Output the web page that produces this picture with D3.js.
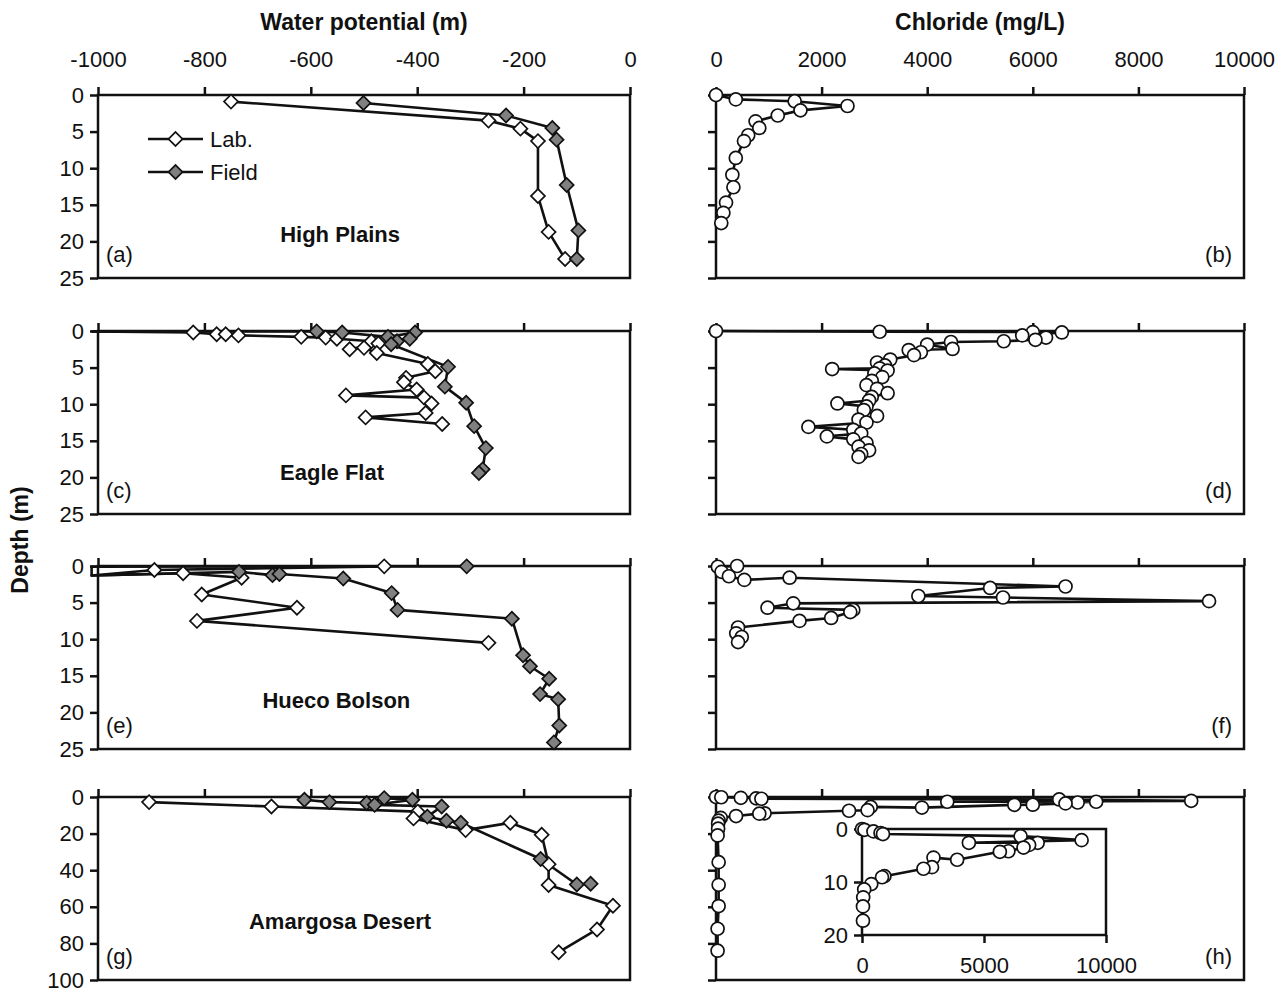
<!DOCTYPE html>
<html>
<head>
<meta charset="utf-8">
<title>Depth profiles</title>
<script src="https://d3js.org/d3.v7.min.js"></script>
<style>
  body { margin: 0; background: #fff; font-family: "Liberation Sans", Arial, sans-serif; }
  .tick text { font-size: 22px; fill: #111; font-family: "Liberation Sans", Arial, sans-serif; }
  .tick line { stroke: #111; stroke-width: 2.5; }
  .frame { fill: none; stroke: #111; stroke-width: 2.5; }
  .series { fill: none; stroke: #111; stroke-width: 2.6; stroke-linejoin: round; }
  .site { font-weight: bold; font-size: 22px; text-anchor: middle; fill: #111; }
  .letter { font-size: 22px; fill: #111; }
  .title { font-weight: bold; font-size: 23px; text-anchor: middle; fill: #111; }
</style>
</head>
<body>
<script>
// ---- data: [value, depth (m)] ----
// (a) High Plains water potential (m)
var hpLab = [[-750,0.9],[-266,3.5],[-206,4.6],[-173,6.3],[-173,13.8],[-153,18.7],[-122,22.4]];
var hpField = [[-501,1.1],[-233,2.8],[-146,4.5],[-138,6.1],[-119,12.3],[-97,18.5],[-100,22.4]];
// (b) High Plains chloride (mg/L)
var hpCl = [[0,0],[375,0.6],[1490,0.85],[2490,1.5],[1600,2.1],[1170,2.8],[750,3.6],[820,4.5],[610,5.5],
            [530,6.3],[375,8.6],[310,10.9],[330,12.6],[190,14.7],[140,16.1],[100,17.5]];

// (c) Eagle Flat
var efLab = [[-1012,0.05],[-821,0.2],[-777,0.45],[-760,0.45],[-736,0.6],[-618,0.8],[-572,0.9],[-551,1.05],
             [-486,1.4],[-473,1.7],[-527,2.5],[-500,2.3],[-476,3.0],[-380,4.5],[-366,5.5],[-421,6.4],
             [-425,7.0],[-401,8.0],[-534,8.8],[-387,9.1],[-373,9.9],[-384,11.2],[-497,11.8],[-353,12.7]];
var efField = [[-1012,0.05],[-589,0.05],[-541,0.2],[-455,0.8],[-404,0.2],[-414,1.05],[-438,1.4],[-449,1.8],
               [-342,4.9],[-348,7.6],[-308,9.8],[-293,13],[-271,16],[-277,18.9],[-284,19.4]];
// (d)
var efCl = [[0,0],[3100,0.1],[6000,0.15],[6550,0.2],[5800,0.6],[6250,0.9],[6050,1.2],[5450,1.4],[4450,1.5],
            [4000,1.85],[4480,2.45],[3650,2.6],[3880,2.9],[3750,3.3],[3300,3.9],[3050,4.3],[3200,4.7],
            [3100,5.1],[2200,5.2],[3250,5.4],[3000,5.8],[3150,6.3],[2950,6.8],[2850,7.4],[3050,7.9],
            [3250,8.5],[2950,9.0],[2900,9.5],[2300,9.9],[2850,10.3],[2800,10.8],[3050,11.6],[2700,12.1],
            [2850,12.5],[1750,13.1],[2600,13.5],[2750,14.0],[2100,14.4],[2600,14.8],[2850,15.3],
            [2700,15.8],[2900,16.3],[2750,16.8],[2700,17.2]];

// (e) Hueco Bolson
var hbLab = [[-462,0.05],[-894,0.55],[-1012,1.3],[-840,1.0],[-730,1.6],[-805,3.9],[-626,5.7],[-814,7.5],[-266,10.5]];
var hbField = [[-307,0.05],[-1012,0.1],[-1012,1.3],[-735,0.8],[-672,1.25],[-659,1.1],[-539,1.7],[-448,3.7],
               [-437,6.0],[-222,7.2],[-201,12.2],[-188,13.7],[-152,15.4],[-169,17.5],[-135,18.2],
               [-133,21.8],[-143,24.1]];
// (f)
var hbCl = [[400,0],[35,0.1],[105,0.8],[244,1.4],[537,1.9],[1394,1.6],[6620,2.8],[5192,3.0],[3833,4.1],
            [5436,4.3],[9338,4.8],[1463,5.1],[976,5.7],[2600,6.0],[2544,6.3],[2181,7.1],[1582,7.5],
            [418,8.4],[383,9.2],[488,9.7],[418,10.4]];

// (g) Amargosa Desert
var adLab = [[-904,2.8],[-674,5.2],[-399,8.0],[-407,11.7],[-309,18.1],[-225,14.1],[-166,20.6],[-153,36.7],
             [-153,48.1],[-32,59.4],[-62,72.4],[-134,84.8]];
var adField = [[-612,1.5],[-565,2.8],[-495,3.3],[-462,0.6],[-409,1.5],[-480,4.3],[-354,5.2],[-381,10.7],
               [-345,13],[-318,14.1],[-168,33.9],[-100,47.8],[-74,47.4]];
// (h) also shown in the inset (0-20 m)
var adCl = [[0,0],[100,0.15],[470,0.45],[760,0.75],[860,0.95],[6500,1.35],[9000,2.1],[4380,2.6],[7200,2.6],
            [6850,3.0],[6620,3.5],[6000,4.2],[5650,4.3],[3900,5.8],[2930,5.4],[2870,7.2],[2520,7.5],
            [920,8.9],[820,9.1],[380,10.4],[90,11.4],[50,12.9],[40,14.6],[40,17.3],[30,21],[50,35.6],
            [50,48],[50,59.6],[30,72],[30,84]];

var wpTicks = [-1000, -800, -600, -400, -200, 0];
var clTicks = [0, 2000, 4000, 6000, 8000, 10000];
var depthTicks = [0, 5, 10, 15, 20, 25];
var deepTicks = [0, 20, 40, 60, 80, 100];
var insetXTicks = [0, 5000, 10000];
var insetYTicks = [0, 10, 20];

var sites = ["High Plains", "Eagle Flat", "Hueco Bolson", "Amargosa Desert"];
var letters = [["(a)","(b)"],["(c)","(d)"],["(e)","(f)"],["(g)","(h)"]];
var labSeries = [hpLab, efLab, hbLab, adLab];
var fieldSeries = [hpField, efField, hbField, adField];
var clSeries = [hpCl, efCl, hbCl, adCl];
var sitePos = [[0.455, 0.76], [0.44, 0.77], [0.448, 0.73], [0.455, 0.68]];

// ---- layout ----
var W = 1282, H = 995;
var rowTop = [95, 331, 566, 797];
var rowH = 183;
var leftX = {x0: 98, x1: 630};
var rightX = {x0: 716, x1: 1244};

var svg = d3.select("body").append("svg").attr("width", W).attr("height", H);

svg.append("text").attr("class", "title").attr("x", 364).attr("y", 30).text("Water potential (m)");
svg.append("text").attr("class", "title").attr("x", 980).attr("y", 30).text("Chloride (mg/L)");
svg.append("text").attr("class", "title")
  .attr("transform", "translate(28," + 540 + ") rotate(-90)").text("Depth (m)");

var diamond = d3.symbol().type(d3.symbolSquare).size(98);
var plainFmt = function(d) { return String(d); };   // hyphen minus, no thousands separator

function drawLine(g, data, x, y) {
  g.append("path").datum(data).attr("class", "series")
    .attr("d", d3.line().x(function(d){ return x(d[0]); }).y(function(d){ return y(d[1]); }));
}
// markers only for points that fall inside the axis range
function inRange(x) {
  var dom = x.domain();
  return function(d) { return d[0] >= dom[0] && d[0] <= dom[1]; };
}
function drawDiamonds(g, data, x, y, fill) {
  g.selectAll(null).data(data.filter(inRange(x))).enter().append("path")
    .attr("d", diamond)
    .attr("transform", function(d){ return "translate(" + x(d[0]) + "," + y(d[1]) + ") rotate(45)"; })
    .attr("fill", fill).attr("stroke", "#111").attr("stroke-width", 1.7);
}
function drawCircles(g, data, x, y) {
  g.selectAll(null).data(data).enter().append("circle")
    .attr("cx", function(d){ return x(d[0]); }).attr("cy", function(d){ return y(d[1]); })
    .attr("r", 6.5).attr("fill", "#fff").attr("stroke", "#111").attr("stroke-width", 1.7);
}
function drawFrame(g, x0, x1, y0, y1) {
  g.append("rect").attr("class", "frame").attr("x", x0).attr("y", y0)
    .attr("width", x1 - x0).attr("height", y1 - y0);
}
function noDomain(s) { s.select(".domain").remove(); }

for (var r = 0; r < 4; r++) {
  var y0 = rowTop[r], y1 = y0 + rowH;
  var dmax = r === 3 ? 100 : 25;
  var yTicks = r === 3 ? deepTicks : depthTicks;
  var y = d3.scaleLinear().domain([0, dmax]).range([y0, y1]);

  // left panel: water potential
  var xL = d3.scaleLinear().domain([-1000, 0]).range([leftX.x0, leftX.x1]);
  var gL = svg.append("g");
  var topAxisL = d3.axisTop(xL).tickValues(wpTicks).tickSize(8).tickPadding(20).tickFormat(plainFmt);
  if (r > 0) topAxisL.tickFormat("");
  gL.append("g").attr("transform", "translate(0," + y0 + ")").call(topAxisL).call(noDomain);
  gL.append("g").attr("transform", "translate(" + leftX.x0 + ",0)")
    .call(d3.axisLeft(y).tickValues(yTicks).tickSize(8).tickPadding(6)).call(noDomain);
  drawFrame(gL, leftX.x0, leftX.x1, y0, y1);

  drawLine(gL, labSeries[r], xL, y);
  drawLine(gL, fieldSeries[r], xL, y);
  drawDiamonds(gL, labSeries[r], xL, y, "#fff");
  drawDiamonds(gL, fieldSeries[r], xL, y, "#808080");

  gL.append("text").attr("class", "site")
    .attr("x", xL(-1000 + 1000 * sitePos[r][0])).attr("y", y0 + rowH * sitePos[r][1] + 8)
    .text(sites[r]);
  gL.append("text").attr("class", "letter").attr("x", leftX.x0 + 8).attr("y", y0 + rowH * 0.87 + 8)
    .text(letters[r][0]);

  // right panel: chloride
  var xR = d3.scaleLinear().domain([0, 10000]).range([rightX.x0, rightX.x1]);
  var gR = svg.append("g");
  var topAxisR = d3.axisTop(xR).tickValues(clTicks).tickSize(8).tickPadding(20).tickFormat(plainFmt);
  if (r > 0) topAxisR.tickFormat("");
  gR.append("g").attr("transform", "translate(0," + y0 + ")").call(topAxisR).call(noDomain);
  gR.append("g").attr("transform", "translate(" + rightX.x0 + ",0)")
    .call(d3.axisLeft(y).tickValues(yTicks).tickSize(8).tickFormat("")).call(noDomain);
  drawFrame(gR, rightX.x0, rightX.x1, y0, y1);

  drawLine(gR, clSeries[r], xR, y);
  drawCircles(gR, clSeries[r], xR, y);

  gR.append("text").attr("class", "letter").attr("text-anchor", "end")
    .attr("x", rightX.x1 - 12).attr("y", y0 + rowH * 0.87 + 8).text(letters[r][1]);

  // legend in (a)
  if (r === 0) {
    var legend = [["Lab.", "#fff", 139], ["Field", "#808080", 172]];
    legend.forEach(function(l) {
      gL.append("line").attr("x1", 148).attr("x2", 203).attr("y1", l[2]).attr("y2", l[2])
        .attr("stroke", "#111").attr("stroke-width", 2.6);
      gL.append("path").attr("d", diamond)
        .attr("transform", "translate(175.5," + l[2] + ") rotate(45)")
        .attr("fill", l[1]).attr("stroke", "#111").attr("stroke-width", 1.7);
      gL.append("text").attr("x", 210).attr("y", l[2] + 8).attr("font-size", "22px").attr("fill", "#111")
        .text(l[0]);
    });
  }

  // inset in (h)
  if (r === 3) {
    var xi = d3.scaleLinear().domain([0, 10000]).range([862, 1106]);
    var yi = d3.scaleLinear().domain([0, 20]).range([829, 935]);
    var gi = svg.append("g");
    gi.append("rect").attr("x", 862).attr("y", 829).attr("width", 244).attr("height", 106).attr("fill", "#fff");
    gi.append("g").attr("transform", "translate(0,935)")
      .call(d3.axisBottom(xi).tickValues(insetXTicks).tickSize(8).tickPadding(14).tickFormat(plainFmt))
      .call(noDomain);
    gi.append("g").attr("transform", "translate(862,0)")
      .call(d3.axisLeft(yi).tickValues(insetYTicks).tickSize(8).tickPadding(6)).call(noDomain);
    drawFrame(gi, 862, 1106, 829, 935);
    var shallow = adCl.filter(function(d){ return d[1] <= 20; });
    drawLine(gi, shallow, xi, yi);
    drawCircles(gi, shallow, xi, yi);
  }
}
</script>
</body>
</html>
